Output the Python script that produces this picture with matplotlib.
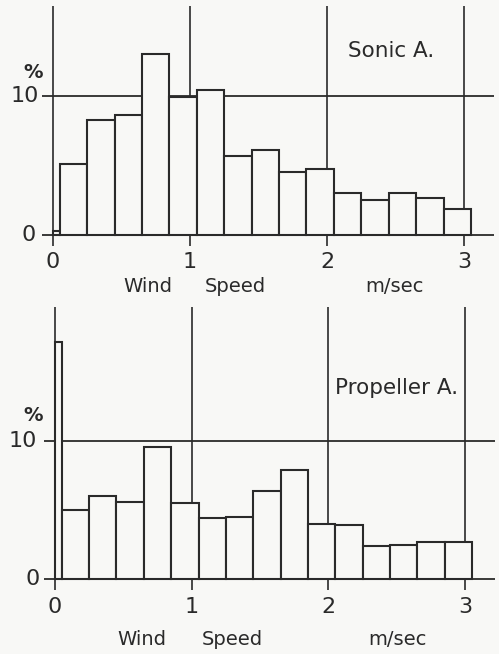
import matplotlib.pyplot as plt
import numpy as np

# bin edges (m/sec): a narrow first bin, then 0.2 m/sec bins
bin_left = [0.0, 0.05, 0.25, 0.45, 0.65, 0.85, 1.05, 1.25, 1.45, 1.65,
            1.85, 2.05, 2.25, 2.45, 2.65, 2.85]
bin_width = [0.05] + [0.2] * 15

# frequency (%) per bin
sonic_pct = [0.25, 5.1, 8.3, 8.6, 13.0, 9.9, 10.4, 5.7, 6.1, 4.5,
             4.75, 3.05, 2.5, 3.05, 2.65, 1.9]
propeller_pct = [17.2, 5.0, 6.0, 5.6, 9.6, 5.5, 4.4, 4.5, 6.4, 7.9,
                 4.0, 3.9, 2.4, 2.5, 2.7, 2.7]

x_ticks = [0, 1, 2, 3]
x_tick_labels = ["0", "1", "2", "3"]
y_ticks = [0, 10]
y_tick_labels = ["0", "10"]

paper = "#f8f8f6"
ink = "#2a2a2a"

fig = plt.figure(figsize=(4.99, 6.54), dpi=100, facecolor=paper)

panels = [
    # axes rect, limits, data, label and text positions (data coords)
    dict(rect=[0, 1 - 300 / 654, 1, 300 / 654], xlim=(-0.387, 3.255),
         ylim=(-4.68, 16.9), data=sonic_pct, name="Sonic A.",
         name_xy=(2.47, 13.2), vtop=16.5, pct_xy=(-0.146, 11.7),
         ten_x=-0.21, zero_x=-0.18, xlab_y=-1.94, title_y=-3.74,
         words_x=(0.69, 1.33, 2.49)),
    dict(rect=[0, 0, 1, 354 / 654], xlim=(-0.402, 3.248),
         ylim=(-5.45, 20.26), data=propeller_pct, name="Propeller A.",
         name_xy=(2.50, 13.9), vtop=19.75, pct_xy=(-0.16, 11.9),
         ten_x=-0.234, zero_x=-0.165, xlab_y=-2.03, title_y=-4.43,
         words_x=(0.634, 1.30, 2.505)),
]

for p in panels:
    ax = fig.add_axes(p["rect"])
    ax.set_xlim(*p["xlim"])
    ax.set_ylim(*p["ylim"])
    ax.axis("off")
    ax.set_facecolor(paper)

    # vertical grid lines at the integer speeds
    ax.vlines(x_ticks, -0.8, p["vtop"], colors=ink, linewidth=1.2)
    # horizontal lines at 0 and 10 %
    ax.hlines(y_ticks, -0.08, 3.22, colors=ink, linewidth=1.3)

    ax.bar(bin_left, p["data"], width=bin_width, align="edge",
           facecolor=paper, edgecolor=ink, linewidth=1.5, zorder=3)

    for xt, lab in zip(x_ticks, x_tick_labels):
        ax.text(xt, p["xlab_y"], lab, ha="center", va="center",
                fontsize=16, color=ink)
    ax.text(p["zero_x"], y_ticks[0], y_tick_labels[0], ha="center",
            va="center", fontsize=16, color=ink)
    ax.text(p["ten_x"], y_ticks[1], y_tick_labels[1], ha="center",
            va="center", fontsize=16, color=ink)
    ax.text(*p["pct_xy"], "%", ha="center", va="center", fontsize=14,
            color=ink, fontweight="bold")

    for word, wx in zip(["Wind", "Speed", "m/sec"], p["words_x"]):
        ax.text(wx, p["title_y"], word, ha="center", va="center",
                fontsize=14, color=ink)

    ax.text(*p["name_xy"], p["name"], ha="center", va="center",
            fontsize=15.5, color=ink)

fig.savefig("out.png", dpi=100, facecolor=paper)
